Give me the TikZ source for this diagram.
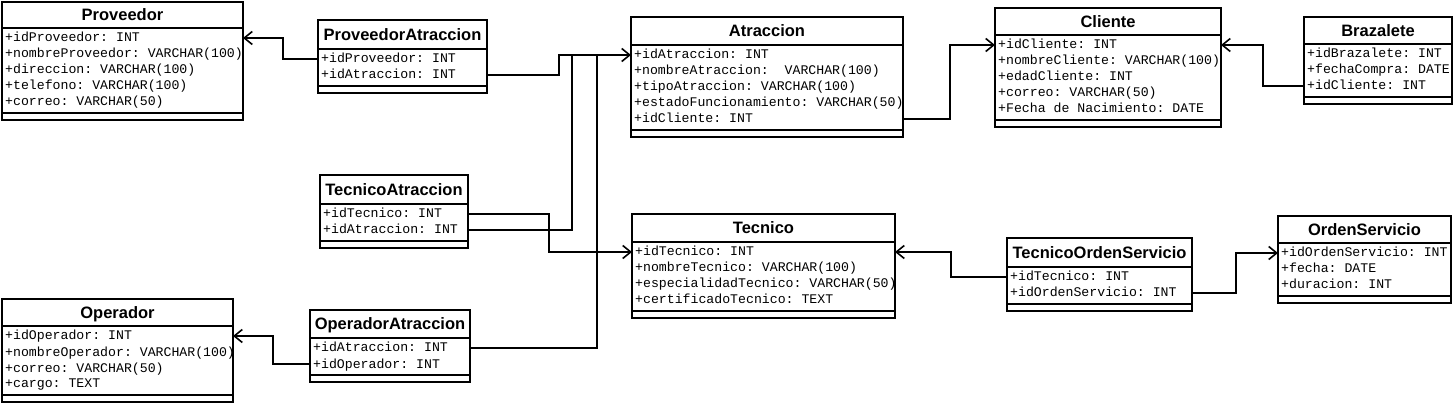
\documentclass[tikz,border=0pt]{standalone}
\usepackage{fontspec}
\setmainfont{Liberation Sans}
\newfontfamily\attrfamily{Liberation Mono}
\usetikzlibrary{arrows.meta}
\tikzset{
  ebox/.style={line width=2pt},
  efill/.style={fill=white, draw=none, inner sep=0pt, outer sep=0pt},
  etitle/.style={font=\bfseries\fontsize{16.5}{18}\selectfont, inner sep=0pt, anchor=base},
  eattr/.style={font=\attrfamily\fontsize{13.2}{15}\selectfont\frenchspacing, inner sep=0pt, anchor=base west},
  fkline/.style={line width=1.6pt},
  fkarrow/.style={fkline, -{Straight Barb[length=8pt,width=13pt]}},
}
\newcommand\umlent[7]{%
  \foreach \rowtxt [count=\i] in {#7} {\xdef\entn{\i}}%
  \pgfmathsetmacro\entcomp{#5+10+16*(\entn-1)+11}%
  \pgfmathsetmacro\entbot{\entcomp+7}%
  \pgfmathsetmacro\entw{#3-#2}%
  \pgfmathsetmacro\enth{\entbot-#4}%
  \node[efill, minimum width=\entw pt, minimum height=\enth pt, anchor=north west] (#1) at (#2,#4) {};%
  \node[etitle] (#1-t) at ({(#2+#3)/2},{(#4+#5)/2+6}) {#6};%
  \foreach \rowtxt [count=\i] in {#7} {%
    \pgfmathsetmacro\entyr{#5+10+16*(\i-1)}%
    \coordinate (#1-\i) at (#2,\entyr);%
    \node[eattr] (#1-r\i) at (#2+3,\entyr+4) {\rowtxt};%
  }%
  \draw[ebox] (#1.north west) rectangle (#1.south east);%
  \draw[ebox] (#2,#5) -- (#3,#5);%
  \draw[ebox] (#2,\entcomp) -- (#3,\entcomp);%
}
\begin{document}
\frenchspacing
\begin{tikzpicture}[x=1pt,y=-1pt]
\useasboundingbox (0,0) rectangle (1454,403);
\umlent{pv}{2}{243}{2}{28}{Proveedor}{+idProveedor: INT,+nombreProveedor: VARCHAR(100),+direccion: VARCHAR(100),+telefono: VARCHAR(100),+correo: VARCHAR(50)}
\umlent{pa}{318}{487}{20}{49}{ProveedorAtraccion}{+idProveedor: INT,+idAtraccion: INT}
\umlent{at}{631}{903}{17}{45}{Atraccion}{+idAtraccion: INT,+nombreAtraccion: \ VARCHAR(100),+tipoAtraccion: VARCHAR(100),+estadoFuncionamiento: VARCHAR(50),+idCliente: INT}
\umlent{cl}{995}{1221}{8}{35}{Cliente}{+idCliente: INT,+nombreCliente: VARCHAR(100),+edadCliente: INT,+correo: VARCHAR(50),+Fecha de Nacimiento: DATE}
\umlent{br}{1304}{1452}{17}{44}{Brazalete}{+idBrazalete: INT,+fechaCompra: DATE,+idCliente: INT}
\umlent{ta}{320}{468}{175}{204}{TecnicoAtraccion}{+idTecnico: INT,+idAtraccion: INT}
\umlent{te}{632}{895}{214}{242}{Tecnico}{+idTecnico: INT,+nombreTecnico: VARCHAR(100),+especialidadTecnico: VARCHAR(50),+certificadoTecnico: TEXT}
\umlent{tos}{1007}{1192}{238}{267}{TecnicoOrdenServicio}{+idTecnico: INT,+idOrdenServicio: INT}
\umlent{os}{1278}{1451}{216}{243}{OrdenServicio}{+idOrdenServicio: INT,+fecha: DATE,+duracion: INT}
\umlent{op}{2}{233}{299}{326}{Operador}{+idOperador: INT,+nombreOperador: VARCHAR(100),+correo: VARCHAR(50),+cargo: TEXT}
\umlent{oa}{310}{470}{310}{338}{OperadorAtraccion}{+idAtraccion: INT,+idOperador: INT}
% connectors
\draw[fkarrow] (pa-1) -- ++(-35,0) |- (pv-1 -| pv.east);
\draw[fkline] (ta-2 -| ta.east) -- ++(104,0) |- (at-1);
\draw[fkline] (oa-1 -| oa.east) -- ++(127,0) |- (at-1);
\draw[fkarrow] (pa-2 -| pa.east) -- ++(72,0) |- (at-1);
\draw[fkarrow] (ta-1 -| ta.east) -- ++(81,0) |- (te-1);
\draw[fkarrow] (oa-2) -- ++(-37,0) |- (op-1 -| op.east);
\draw[fkarrow] (at-5 -| at.east) -- ++(47,0) |- (cl-1);
\draw[fkarrow] (br-3) -- ++(-41,0) |- (cl-1 -| cl.east);
\draw[fkarrow] (tos-1) -- ++(-56,0) |- (te-1 -| te.east);
\draw[fkarrow] (tos-2 -| tos.east) -- ++(44,0) |- (os-1);
\end{tikzpicture}
\end{document}
